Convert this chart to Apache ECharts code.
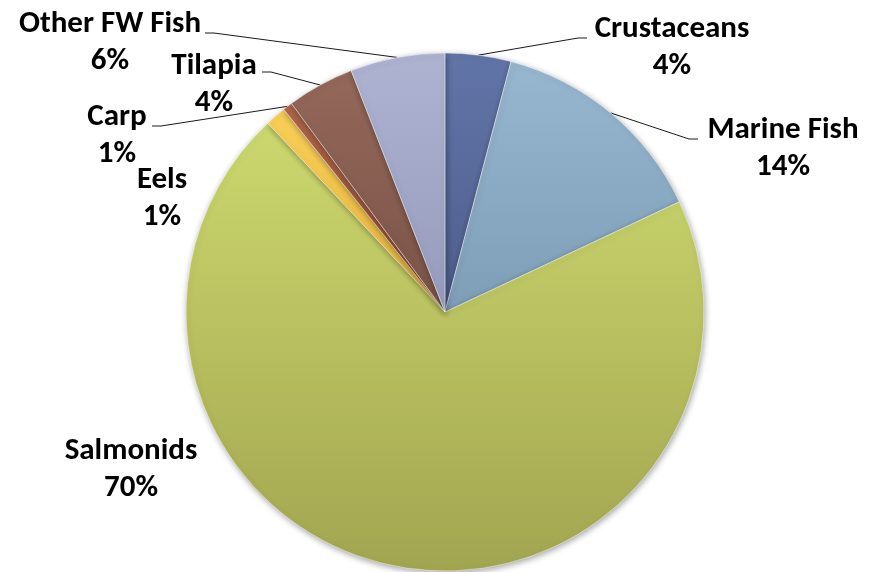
<!DOCTYPE html>
<html>
<head>
<meta charset="utf-8">
<script src="https://cdn.jsdelivr.net/npm/echarts@6/dist/echarts.min.js"></script>
<style>
html,body{margin:0;padding:0;background:#fff;}
#chart{width:873px;height:572px;}
</style>
</head>
<body>
<div id="chart"></div>
<script>
// ---- data ----
var categories = ['Crustaceans', 'Marine Fish', 'Salmonids', 'Eels', 'Carp', 'Tilapia', 'Other FW Fish'];
var shares = [4.1, 13.9, 70.0, 1.3, 0.6, 4.2, 5.9];

// ---- styles ----
var topColors = ['#6275a8', '#97b6cf', '#ccd86e', '#f8cf58', '#b0664a', '#94685a', '#aeb3d2'];
var botColors = ['#4e5d8c', '#7e9db6', '#a2a550', '#e6b23a', '#93492e', '#7a5347', '#969bbd'];
// label centre and leader-line end (null = no leader)
var labelPos = [
  {x: 672, y: 48, end: [587, 38], side: 1},
  {x: 783, y: 149, end: [698, 139], side: 1},
  {x: 131, y: 470, end: null},
  {x: 162, y: 199, end: null},
  {x: 117, y: 136, end: [152, 126], side: -1},
  {x: 214, y: 85, end: [262, 72], side: -1},
  {x: 110, y: 43, end: [205, 33], side: -1}
];

var total = shares.reduce(function (a, b) { return a + b; }, 0);
var cx = 445, cy = 312, R = 259;

var seriesData = categories.map(function (name, i) {
  return {
    name: name,
    value: shares[i],
    itemStyle: {
      color: new echarts.graphic.LinearGradient(0, 0, 0, 1, [
        {offset: 0, color: topColors[i]},
        {offset: 1, color: botColors[i]}
      ])
    },
    labelLine: {show: labelPos[i].end !== null}
  };
});

var chart = echarts.init(document.getElementById('chart'), null, {renderer: 'canvas'});
chart.setOption({
  backgroundColor: '#ffffff',
  animation: false,
  series: [{
    type: 'pie',
    center: [cx, cy],
    radius: [0, R],
    startAngle: 90,
    clockwise: true,
    avoidLabelOverlap: false,
    data: seriesData,
    itemStyle: {
      borderColor: 'rgba(255,255,255,0.45)',
      borderWidth: 1,
      shadowBlur: 6,
      shadowColor: 'rgba(0,0,0,0.35)',
      shadowOffsetX: 1,
      shadowOffsetY: 2
    },
    label: {
      show: true,
      position: 'outside',
      formatter: function (p) {
        return p.name + '\n' + Math.round(p.value / total * 100) + '%';
      },
      fontFamily: 'Carlito, Lato, sans-serif',
      fontWeight: 'bold',
      fontSize: 31,
      lineHeight: 37,
      color: '#000000',
      align: 'center'
    },
    labelLine: {
      show: true,
      smooth: false,
      length: 10,
      length2: 10,
      lineStyle: {color: '#1a1a1a', width: 1}
    },
    labelLayout: function (params) {
      var i = params.dataIndex;
      var lp = labelPos[i];
      var out = {x: lp.x, y: lp.y, align: 'center', verticalAlign: 'middle'};
      if (lp.end) {
        var start;
        if (params.labelLinePoints && params.labelLinePoints[0]) {
          start = params.labelLinePoints[0];
        } else {
          var before = 0;
          for (var k = 0; k < i; k++) before += shares[k];
          var mid = (before + shares[i] / 2) / total * 2 * Math.PI;
          start = [cx + R * Math.sin(mid), cy - R * Math.cos(mid)];
        }
        var bend = [lp.end[0] - 9 * lp.side, lp.end[1]];
        out.labelLinePoints = [start, bend, lp.end];
      }
      return out;
    }
  }]
});
</script>
</body>
</html>
